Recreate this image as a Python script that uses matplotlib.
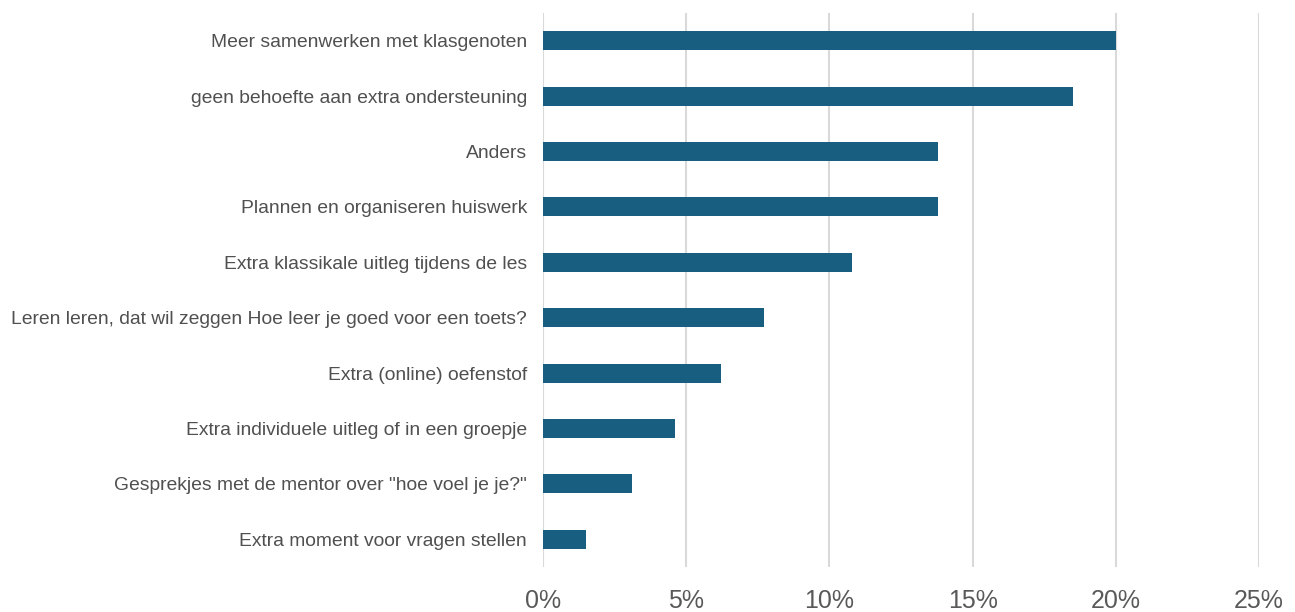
import matplotlib
matplotlib.use("Agg")
import matplotlib.pyplot as plt
from matplotlib.ticker import FuncFormatter

categories = [
    "Meer samenwerken met klasgenoten",
    "geen behoefte aan extra ondersteuning",
    "Anders",
    "Plannen en organiseren huiswerk",
    "Extra klassikale uitleg tijdens de les",
    "Leren leren, dat wil zeggen Hoe leer je goed voor een toets?",
    "Extra (online) oefenstof",
    "Extra individuele uitleg of in een groepje",
    'Gesprekjes met de mentor over "hoe voel je je?"',
    "Extra moment voor vragen stellen",
]
values = [20.0, 18.5, 13.8, 13.8, 10.8, 7.7, 6.2, 4.6, 3.1, 1.5]
xticks = [0, 5, 10, 15, 20, 25]

plt.rcParams['font.family'] = ['Liberation Sans', 'DejaVu Sans']

fig = plt.figure(figsize=(12.95, 6.12), dpi=100)
ax = fig.add_axes([543/1295, 1 - 567/612, (1259 - 543)/1295, (567 - 13)/612])

n = len(categories)
ypos = list(range(n))[::-1]
ax.barh(ypos, values, height=0.34, color="#175E80", zorder=3)

ax.set_ylim(-0.5, n - 0.5)
ax.set_xlim(0, 25)
ax.set_xticks(xticks)
ax.xaxis.set_major_formatter(FuncFormatter(lambda v, p: f"{v:.0f}%"))
ax.set_yticks(ypos)
ax.set_yticklabels(categories)

ax.grid(axis='x', color="#D9D9D9", linewidth=1.5, zorder=0)
for s in ax.spines.values():
    s.set_visible(False)
ax.tick_params(axis='both', length=0)
ax.tick_params(axis='y', labelsize=13.9, labelcolor="#505050", pad=11.5)
ax.tick_params(axis='x', labelsize=18, labelcolor="#595959", pad=16)

fig.savefig("out.png", dpi=100)
